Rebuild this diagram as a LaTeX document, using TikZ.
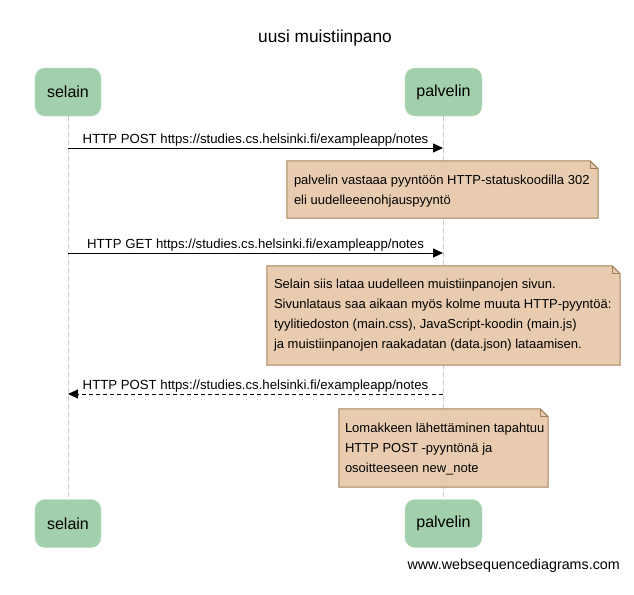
\documentclass[tikz,border=0pt]{standalone}
\usepackage{fontspec}
\setmainfont{Liberation Sans}
\usetikzlibrary{arrows.meta,calc}
\definecolor{actorfill}{RGB}{162,208,172}
\definecolor{notefill}{RGB}{233,204,176}
\definecolor{notedraw}{RGB}{160,128,88}
\definecolor{lifegray}{RGB}{200,200,200}
\newcommand\dogear[1]{%
  \fill[white] ([xshift=-8pt]#1.north east) -- (#1.north east) -- ([yshift=-8pt]#1.north east) -- cycle;
  \draw[notedraw,line width=1pt] (#1.south west) -- (#1.north west) -- ([xshift=-8pt]#1.north east) -- ([yshift=-8pt]#1.north east) -- (#1.south east) -- cycle;
  \draw[notedraw,line width=0.8pt] ([xshift=-8pt]#1.north east) -- ([xshift=-8pt,yshift=-8pt]#1.north east) -- ([yshift=-8pt]#1.north east);}
\begin{document}
\begin{tikzpicture}[x=1pt,y=-1pt,
  actorbox/.style={fill=actorfill, draw=actorfill!80!white, rounded corners=10pt, minimum width=#1, minimum height=48pt, inner sep=0pt, font=\fontsize{16}{19}\selectfont},
  lifeline/.style={draw=lifegray, line width=1pt, dash pattern=on 5pt off 3pt},
  msg/.style={line width=1pt, -{Triangle[length=10pt,width=9pt]}},
  msglabel/.style={anchor=base, yshift=4.5pt, inner sep=0pt, font=\fontsize{13.2}{16}\selectfont},
  notebox/.style={fill=notefill, inner sep=0pt},
  notetext/.style={anchor=west, inner sep=0pt, align=left, font=\fontsize{13}{20}\selectfont}
]
\useasboundingbox (0,0) rectangle (634,594);
% title
\node[font=\fontsize{17.3}{20}\selectfont] (title) at (325,38) {uusi muistiinpano};
% actors
\node[actorbox=66pt] (sTop) at (68,92) {selain};
\node[actorbox=77pt] (pTop) at (443.5,92) {palvelin};
\node[actorbox=66pt] (sBot) at (68,523.5) {selain};
\node[actorbox=77pt] (pBot) at (443.5,523.5) {palvelin};
% lifelines
\draw[lifeline] (sTop) -- (sBot);
\draw[lifeline] (pTop) -- (pBot);
% message end points
\coordinate (m1a) at (68,148);
\coordinate (m1b) at (443,148);
\coordinate (m2a) at (68,253);
\coordinate (m2b) at (443,253);
\coordinate (m3a) at (443,394);
\coordinate (m3b) at (68,394);
% messages
\draw[msg] (m1a) -- (m1b) node[msglabel, midway] {HTTP POST https://studies.cs.helsinki.fi/exampleapp/notes};
\draw[msg] (m2a) -- (m2b) node[msglabel, midway] {HTTP GET https://studies.cs.helsinki.fi/exampleapp/notes};
\draw[msg, dash pattern=on 4pt off 3pt] (m3a) -- (m3b) node[msglabel, midway] {HTTP POST https://studies.cs.helsinki.fi/exampleapp/notes};
% notes
\node[notebox, minimum width=311pt, minimum height=57pt] (n1) at (442.5,189.5) {};
\dogear{n1}
\node[notetext] (n1t) at ([xshift=7pt,yshift=-2pt]n1.west)
  {palvelin vastaaa pyyntöön HTTP-statuskoodilla 302\\eli uudelleeenohjauspyyntö};
\node[notebox, minimum width=353pt, minimum height=99pt] (n2) at (443.5,315.5) {};
\dogear{n2}
\node[notetext] (n2t) at ([xshift=7pt]n2.west)
  {Selain siis lataa uudelleen muistiinpanojen sivun.\\Sivunlataus saa aikaan myös kolme muuta HTTP-pyyntöä:\\tyylitiedoston (main.css), JavaScript-koodin (main.js)\\ja muistiinpanojen raakadatan (data.json) lataamisen.};
\node[notebox, minimum width=209pt, minimum height=78pt] (n3) at (443.5,448) {};
\dogear{n3}
\node[notetext] (n3t) at ([xshift=6pt,yshift=-1.5pt]n3.west)
  {Lomakkeen lähettäminen tapahtuu\\HTTP POST -pyyntönä ja\\osoitteeseen new\_note};
% footer
\node[anchor=east, inner sep=0pt, font=\fontsize{14.3}{17}\selectfont] (footer) at (620,566) {www.websequencediagrams.com};
\end{tikzpicture}
\end{document}
